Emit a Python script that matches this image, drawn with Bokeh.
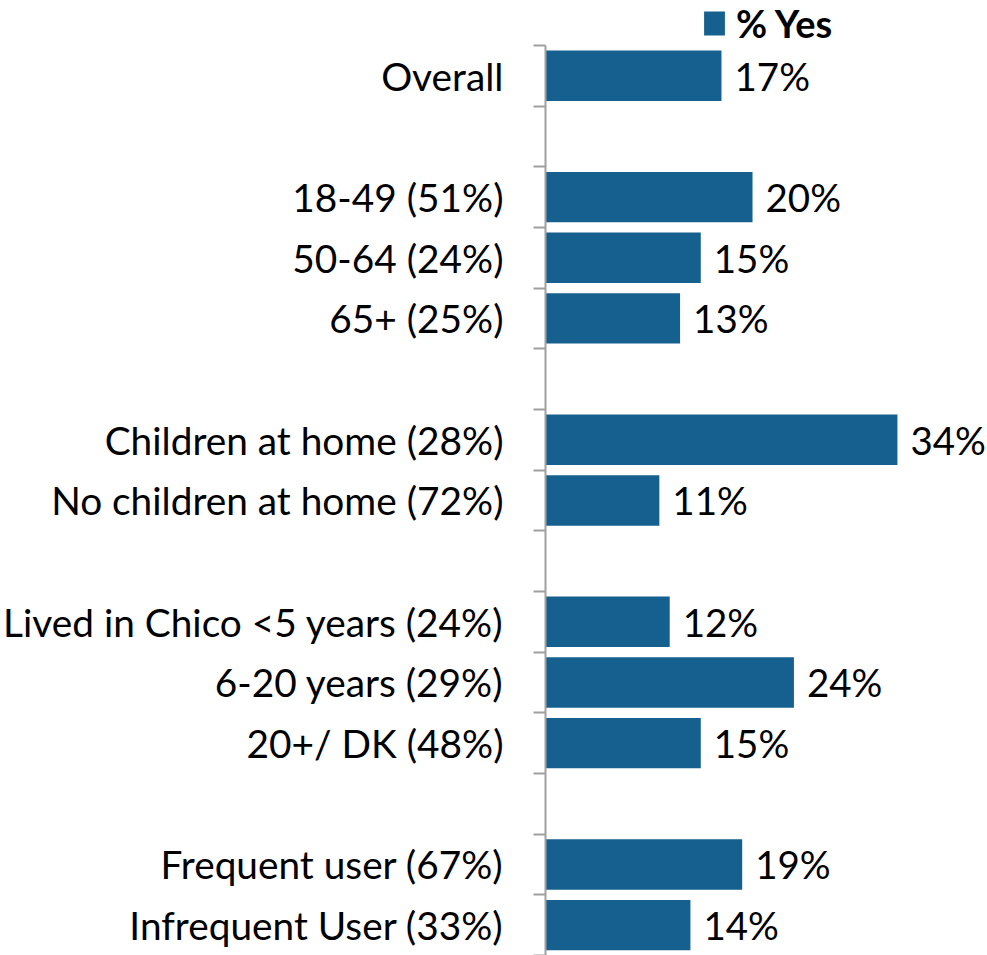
from bokeh.plotting import figure
from bokeh.models import (ColumnDataSource, Range1d, FixedTicker, LabelSet,
                          Legend, LegendItem)
from bokeh.core.properties import value
from bokeh.embed import file_html
from bokeh.resources import INLINE

categories = ["Overall", "", "18-49 (51%)", "50-64 (24%)", "65+ (25%)", "",
              "Children at home (28%)", "No children at home (72%)", "",
              "Lived in Chico <5 years (24%)", "6-20 years (29%)", "20+/ DK (48%)", "",
              "Frequent user (67%)", "Infrequent User (33%)"]
values = [17, None, 20, 15, 13, None, 34, 11, None, 12, 24, 15, None, 19, 14]
series_name = "% Yes"

FONT = "Lato"
BAR = "#15608F"
GRAY = "#A0A0A0"

ys, xs, labs = [], [], []
for i, v in enumerate(values):
    if v is not None:
        ys.append(i + 0.5)
        xs.append(v)
        labs.append(f"{v}%")
src = ColumnDataSource(dict(y=ys, x=xs, lab=labs))

n = len(categories)
p = figure(width=987, height=955, x_range=Range1d(0, 42.7), y_range=Range1d(n, -0.74),
           output_backend="svg", toolbar_location=None,
           min_border_left=544, min_border_right=0, min_border_top=0, min_border_bottom=0)
p.outline_line_color = None
p.xgrid.visible = False
p.ygrid.visible = False
p.xaxis.visible = False

bars = p.hbar(y="y", right="x", left=0, height=0.83, source=src, fill_color=BAR, line_color=None)

ax = p.yaxis[0]
ax.bounds = (0, n)
ax.ticker = FixedTicker(ticks=[i + 0.5 for i in range(n)], minor_ticks=list(range(n + 1)))
ax.major_label_overrides = {i + 0.5: c for i, c in enumerate(categories)}
ax.major_tick_out = 0
ax.major_tick_in = 0
ax.minor_tick_out = 12
ax.minor_tick_in = 0
ax.minor_tick_line_color = GRAY
ax.minor_tick_line_width = 2
ax.axis_line_color = GRAY
ax.axis_line_width = 2
ax.major_label_standoff = 30
ax.major_label_text_font = FONT
ax.major_label_text_font_size = "38.8px"
ax.major_label_text_color = "black"

vl = LabelSet(x="x", y="y", text="lab", source=src, x_offset=13,
              text_baseline="middle", text_align="left",
              text_font=value(FONT), text_font_size=value("38.5px"), text_color="black")
p.add_layout(vl)

leg = Legend(items=[LegendItem(label=series_name, renderers=[bars])],
             location=(156, 909), orientation="horizontal",
             label_text_font=FONT, label_text_font_size="38px", label_text_font_style="bold",
             label_text_color="black",
             glyph_width=26, glyph_height=30, padding=0, margin=0, spacing=0,
             label_standoff=9, border_line_color=None, background_fill_alpha=0)
p.add_layout(leg, "center")

open("out.html", "w").write(file_html(p, INLINE))
